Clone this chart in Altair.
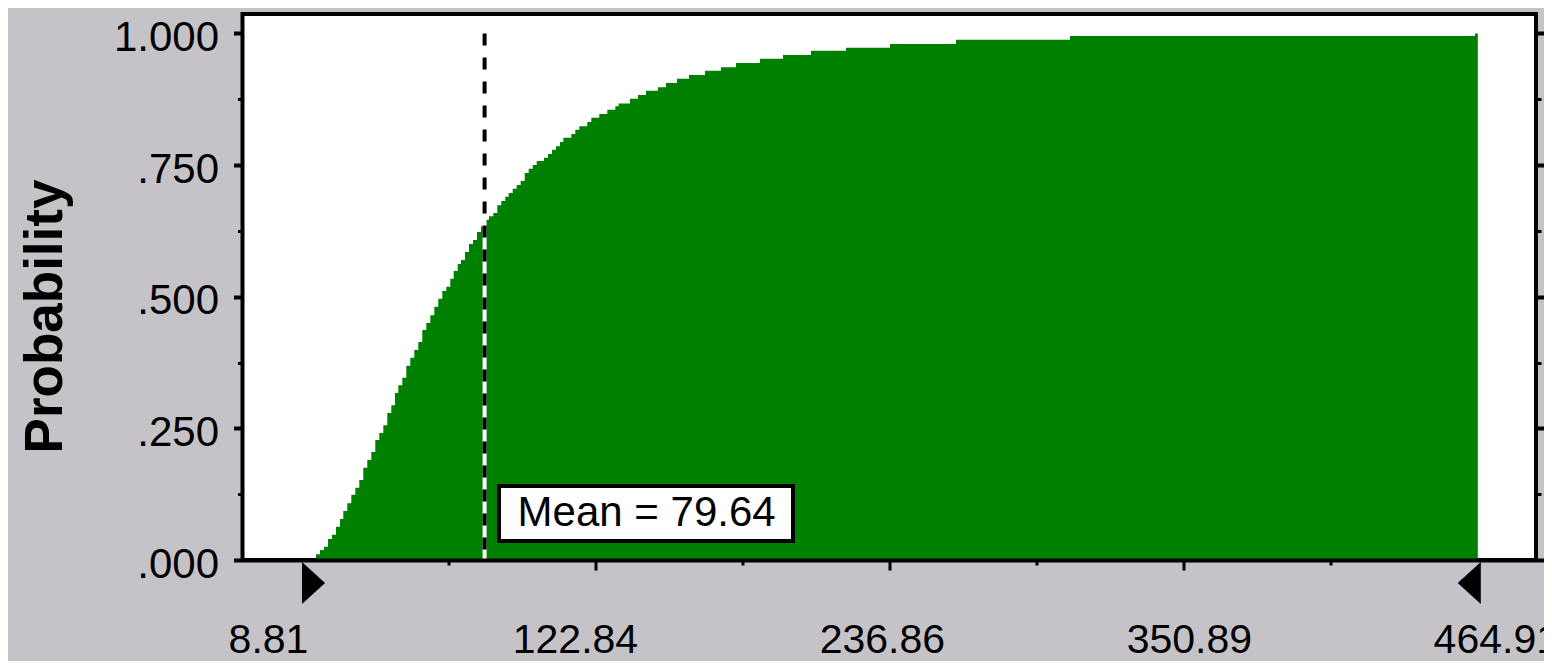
import altair as alt
import pandas as pd

# cumulative probability (x = value, p = cumulative probability)
cdf_x = [14.24, 15.79, 17.34, 18.90, 20.45, 22.00, 23.55, 24.83, 26.38, 27.93,
         29.49, 31.04, 32.59, 34.14, 35.69, 37.24, 38.79, 40.35, 41.90, 43.45,
         44.88, 46.16, 47.72, 49.27, 50.82, 52.37, 53.92, 55.47, 57.03, 58.58,
         60.13, 61.68, 63.23, 64.78, 66.34, 67.65, 69.21, 70.49, 72.04, 73.59,
         75.14, 76.69, 78.24, 79.80, 81.35, 83.02, 84.57, 86.12, 87.67, 88.99,
         90.54, 92.09, 93.64, 95.20, 96.75, 98.30, 99.85, 102.68, 104.23, 105.79,
         107.34, 108.89, 110.17, 113.27, 114.82, 116.38, 119.48, 121.03, 124.13, 127.24,
         130.34, 131.66, 136.04, 139.15, 142.25, 146.90, 150.01, 154.27, 158.93, 165.13,
         171.34, 177.16, 186.47, 195.39, 206.25, 219.83, 236.90, 262.50, 306.72, 463.81, 464.91]
cdf_p = [0.011, 0.019, 0.025, 0.040, 0.048, 0.063, 0.078, 0.093, 0.108, 0.124,
         0.137, 0.152, 0.175, 0.190, 0.205, 0.228, 0.241, 0.256, 0.279, 0.294,
         0.317, 0.332, 0.346, 0.369, 0.384, 0.399, 0.414, 0.437, 0.450, 0.465,
         0.481, 0.496, 0.511, 0.519, 0.534, 0.549, 0.562, 0.570, 0.585, 0.600,
         0.608, 0.623, 0.634, 0.646, 0.653, 0.659, 0.674, 0.682, 0.690, 0.697,
         0.705, 0.712, 0.720, 0.735, 0.743, 0.750, 0.758, 0.764, 0.771, 0.779,
         0.786, 0.794, 0.802, 0.809, 0.817, 0.824, 0.832, 0.840, 0.847, 0.855,
         0.862, 0.867, 0.876, 0.883, 0.891, 0.898, 0.906, 0.914, 0.921, 0.929,
         0.936, 0.944, 0.952, 0.959, 0.967, 0.973, 0.980, 0.988, 0.995, 1.000, 1.000]

x_ticks = [8.81, 65.82, 122.84, 179.85, 236.86, 293.88, 350.89, 407.90, 464.91]
x_minor = [65.82, 179.85, 293.88, 407.90]
y_ticks = [0, 0.125, 0.25, 0.375, 0.5, 0.625, 0.75, 0.875, 1.0]
mean_value = 79.64
mean_label = "Mean = 79.64"
range_ends = [8.81, 464.91]
y_title = "Probability"

FONT = "Liberation Sans"
GREEN = "#008000"
GRAY = "#C5C3C7"

W, H = 1293.5, 546
xscale = alt.Scale(domain=[-14.27, 487.48], nice=False, zero=False)
yscale = alt.Scale(domain=[0, 1.037], nice=False, zero=False)

cdf = pd.DataFrame({"x": cdf_x, "p": cdf_p})
mean_df = pd.DataFrame({"x": [mean_value], "top": [1.0], "bottom": [0.0], "label": [mean_label]})
ends_df = pd.DataFrame({"x": range_ends})

minor_test = "indexof([" + ",".join(str(v) for v in x_minor) + "], datum.value) >= 0"
end_test = "datum.value < 10 || datum.value > 460"

x_axis = alt.Axis(
    values=x_ticks, title=None, grid=False, domain=True, domainColor="black", domainWidth=4,
    zindex=1, labelFont=FONT, labelFontSize=41, labelColor="black", labelFlush=False,
    labelOverlap=False, labelPadding=50, labelAlign="center",
    labelExpr=f"({minor_test}) ? '' : format(datum.value, '.2f')",
    labelOffset={"condition": [
        {"test": "datum.value < 60", "value": -34},
        {"test": "datum.value < 180", "value": -21},
        {"test": "datum.value < 300", "value": -8},
        {"test": "datum.value < 400", "value": 5}], "value": 18},
    tickColor="black", tickWidth=3,
    tickSize={"condition": {"test": minor_test, "value": 5}, "value": 10},
    tickOpacity={"condition": {"test": end_test, "value": 0}, "value": 1},
)
X = alt.X("x:Q", scale=xscale, axis=x_axis)

y_major_test = "datum.value % 0.25 == 0"
y_axis_left = alt.Axis(
    orient="left", values=y_ticks, grid=False, domain=False,
    title=y_title, titleFont=FONT, titleFontSize=53, titleFontWeight="bold", titleColor="black",
    titleAngle=270, titleAlign="center", titleBaseline="middle", titleX=-197.5, titleY=302,
    labelFont=FONT, labelFontSize=42, labelColor="black", labelPadding=15, labelOffset=4,
    labelOverlap=False,
    labelExpr=f"{y_major_test} ? replace(format(datum.value, '.3f'), '0.', '.') : ''",
    tickColor="black",
    tickSize={"condition": {"test": y_major_test, "value": 9}, "value": 5},
    tickWidth={"condition": {"test": y_major_test, "value": 4}, "value": 3},
)
y_axis_right = alt.Axis(
    orient="right", values=y_ticks, grid=False, domain=False, labels=False, title=None,
    tickColor="black",
    tickSize={"condition": {"test": y_major_test, "value": 9}, "value": 5},
    tickWidth={"condition": {"test": y_major_test, "value": 4}, "value": 3},
)

area = alt.Chart(cdf).mark_area(color=GREEN, interpolate="step-after", opacity=1).encode(
    x=X,
    y=alt.Y("p:Q", scale=yscale, axis=y_axis_left, stack=None),
    y2=alt.datum(0),
)

box = alt.Chart(mean_df).mark_rect(
    fill="white", stroke="black", strokeWidth=4, xOffset=14.4, x2Offset=308.4
).encode(
    x=X, x2="x:Q",
    y=alt.value(472), y2=alt.value(527),
)
text = alt.Chart(mean_df).mark_text(
    align="left", baseline="middle", xOffset=33, font=FONT, fontSize=42, color="black"
).encode(
    x=X, y=alt.value(498.5), text="label:N",
)

tri_r = alt.Chart(ends_df).transform_filter("datum.x < 100").mark_point(
    shape="M0,-1L1.1,0L0,1Z", filled=True, color="black", opacity=1, size=1764, strokeWidth=0
).encode(x=X, y=alt.value(569))
tri_l = alt.Chart(ends_df).transform_filter("datum.x > 100").mark_point(
    shape="M0,-1L-1.1,0L0,1Z", filled=True, color="black", opacity=1, size=1764, strokeWidth=0,
    xOffset=3
).encode(x=X, y=alt.value(569))

main = alt.layer(area, box, text, tri_r, tri_l)

mean_base = alt.Chart(mean_df).encode(
    x=X,
    y=alt.Y("top:Q", scale=yscale, axis=y_axis_right),
    y2="bottom:Q",
)
mean_white = mean_base.mark_rule(color="white", strokeWidth=4)
mean_dash = mean_base.mark_rule(color="black", strokeWidth=4, strokeDash=[12, 12])
mean_layer = alt.layer(mean_white, mean_dash)

chart = alt.layer(main, mean_layer).resolve_scale(y="independent").properties(
    width=W, height=H,
    autosize=alt.AutoSizeParams(type="none"),
    padding={"left": 234.5, "top": 6, "right": 8, "bottom": 101},
    background=GRAY,
).configure_view(stroke="black", strokeWidth=4, fill="white")

chart.save("out.html", embed_options={"renderer": "svg", "actions": False})
